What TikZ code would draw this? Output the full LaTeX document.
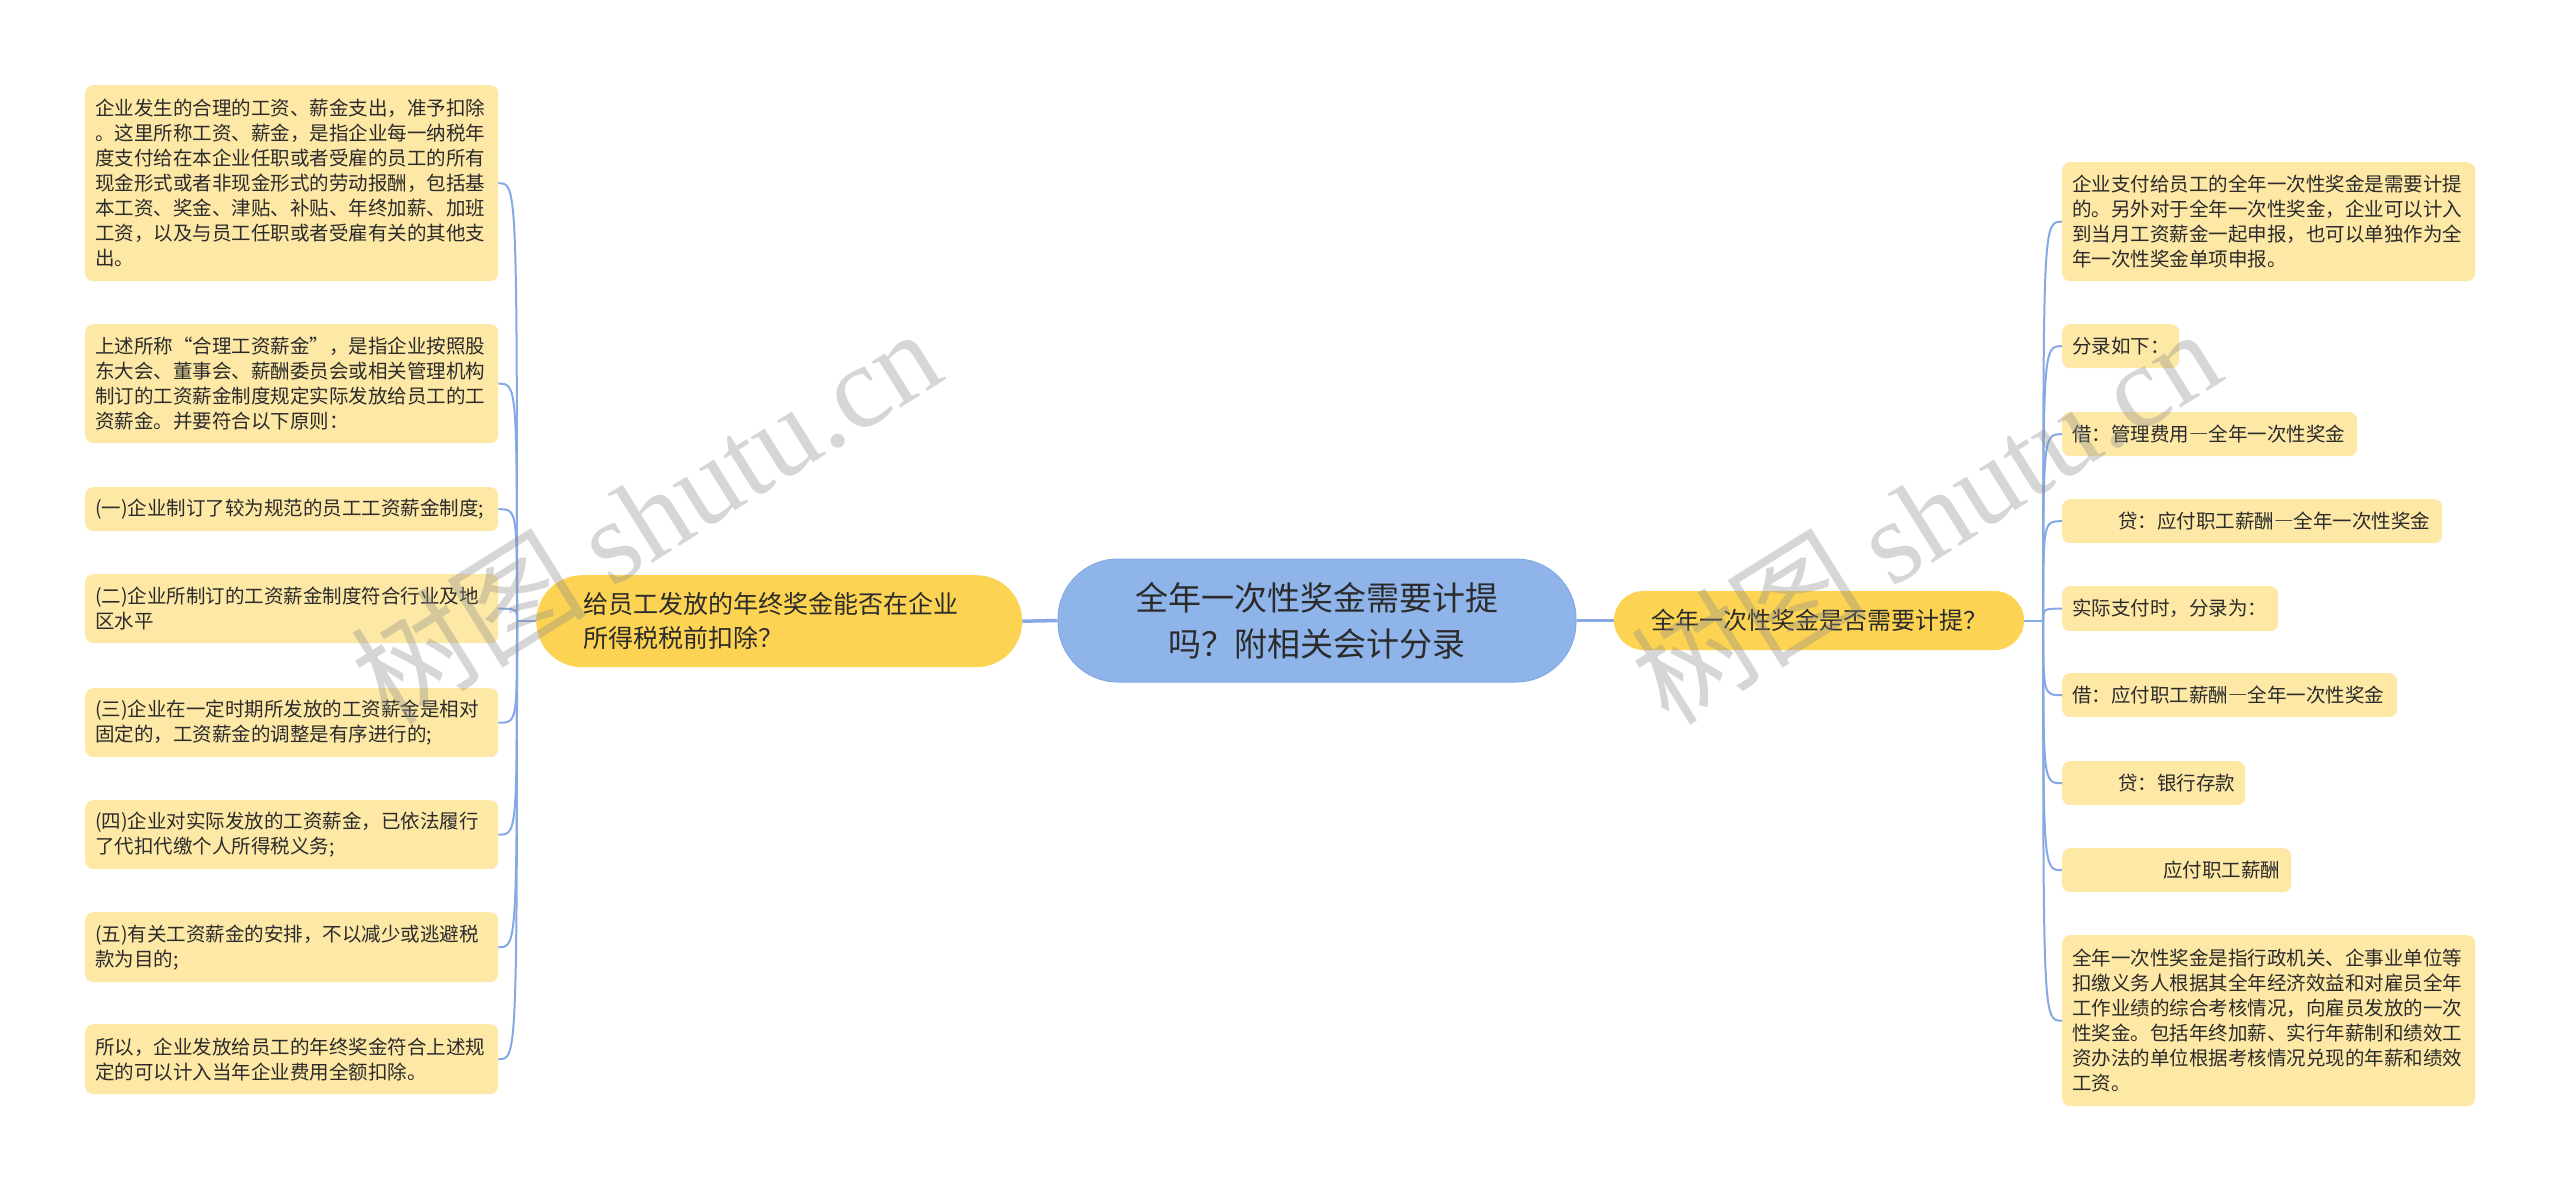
\documentclass[tikz,border=0pt]{standalone}
\usepackage{fontspec}
\setmainfont{Noto Sans CJK SC}
\newfontfamily\wmserif{Liberation Serif}
\newcommand\fwdash{{\addfontfeature{RawFeature=+fwid}—}}
\definecolor{boxfill}{HTML}{FDE8A6}
\definecolor{mainfill}{HTML}{FCD352}
\definecolor{centerfill}{HTML}{8FB4EA}
\definecolor{centerline}{HTML}{84AAE4}
\definecolor{conncol}{HTML}{86A9E3}
\definecolor{txt}{HTML}{2B2B2B}
\begin{document}
\begin{tikzpicture}[x=1pt,y=-1pt,
  leaf/.style={fill=boxfill, rounded corners=8pt, inner xsep=10pt, inner ysep=0pt,
    align=left, anchor=north west, text=txt, font=\fontsize{19.5}{25}\selectfont},
  mainnode/.style={fill=mainfill, inner ysep=0pt, text=txt},
  centernode/.style={fill=centerfill, draw=centerline, line width=1pt, rounded corners=60pt,
    inner sep=0pt, align=center, text=txt, font=\fontsize{33}{46}\selectfont},
  conn/.style={draw=conncol, line width=2pt},
  mainconn/.style={draw=conncol, line width=3.5pt},
  wm/.style={text=black!45, opacity=0.35, font=\fontsize{118}{118}\selectfont}
]
\useasboundingbox (0,0) rectangle (2560,1191);
\fill[white] (0,0) rectangle (2560,1191);

% centre
\node[centernode, minimum width=518pt, minimum height=123pt] (c) at (1317,620.5)
  {全年一次性奖金需要计提\\吗？附相关会计分录};

% left main
\node[mainnode, anchor=north west, rounded corners=45.9pt, align=left, text width=392pt,
  inner xsep=47pt, minimum height=92pt, font=\fontsize{25}{34}\selectfont] (lm) at (536,575)
  {给员工发放的年终奖金能否在企业\\所得税税前扣除？};

% right main
\node[mainnode, rounded corners=29.4pt, align=center, minimum width=410pt,
  minimum height=59pt, font=\fontsize{24}{30}\selectfont] (rm) at (1819,620.5)
  {全年一次性奖金是否需要计提？};

% left leaves
\node[leaf, text width=393pt, minimum height=196pt] (l1) at (85,85)
  {企业发生的合理的工资、薪金支出，准予扣除\\。这里所称工资、薪金，是指企业每一纳税年\\度支付给在本企业任职或者受雇的员工的所有\\现金形式或者非现金形式的劳动报酬，包括基\\本工资、奖金、津贴、补贴、年终加薪、加班\\工资，以及与员工任职或者受雇有关的其他支\\出。};
\node[leaf, text width=393pt, minimum height=119pt] (l2) at (85,324)
  {上述所称“合理工资薪金”，是指企业按照股\\东大会、董事会、薪酬委员会或相关管理机构\\制订的工资薪金制度规定实际发放给员工的工\\资薪金。并要符合以下原则：};
\node[leaf, text width=393pt, minimum height=44pt] (l3) at (85,487)
  {(一)企业制订了较为规范的员工工资薪金制度;};
\node[leaf, text width=393pt, minimum height=69pt] (l4) at (85,574)
  {(二)企业所制订的工资薪金制度符合行业及地\\区水平};
\node[leaf, text width=393pt, minimum height=69pt] (l5) at (85,688)
  {(三)企业在一定时期所发放的工资薪金是相对\\固定的，工资薪金的调整是有序进行的;};
\node[leaf, text width=393pt, minimum height=69pt] (l6) at (85,800)
  {(四)企业对实际发放的工资薪金，已依法履行\\了代扣代缴个人所得税义务;};
\node[leaf, text width=393pt, minimum height=70pt] (l7) at (85,912)
  {(五)有关工资薪金的安排，不以减少或逃避税\\款为目的;};
\node[leaf, text width=393pt, minimum height=70pt] (l8) at (85,1024)
  {所以，企业发放给员工的年终奖金符合上述规\\定的可以计入当年企业费用全额扣除。};

% right leaves
\node[leaf, text width=393pt, minimum height=119pt] (r1) at (2062,162)
  {企业支付给员工的全年一次性奖金是需要计提\\的。另外对于全年一次性奖金，企业可以计入\\到当月工资薪金一起申报，也可以单独作为全\\年一次性奖金单项申报。};
\node[leaf, text width=97pt, minimum height=44pt] (r2) at (2062,324) {分录如下：};
\node[leaf, text width=275pt, minimum height=44pt] (r3) at (2062,412) {借：管理费用\fwdash 全年一次性奖金};
\node[leaf, text width=360pt, minimum height=44pt] (r4) at (2062,499)
  {\hspace*{46pt}贷：应付职工薪酬\fwdash 全年一次性奖金};
\node[leaf, text width=196pt, minimum height=45pt] (r5) at (2062,586) {实际支付时，分录为：};
\node[leaf, text width=315pt, minimum height=44pt] (r6) at (2062,673) {借：应付职工薪酬\fwdash 全年一次性奖金};
\node[leaf, text width=163pt, minimum height=44pt] (r7) at (2062,761) {\hspace*{46pt}贷：银行存款};
\node[leaf, text width=209pt, minimum height=44pt] (r8) at (2062,848) {\hspace*{91pt}应付职工薪酬};
\node[leaf, text width=393pt, minimum height=171pt] (r9) at (2062,935)
  {全年一次性奖金是指行政机关、企事业单位等\\扣缴义务人根据其全年经济效益和对雇员全年\\工作业绩的综合考核情况，向雇员发放的一次\\性奖金。包括年终加薪、实行年薪制和绩效工\\资办法的单位根据考核情况兑现的年薪和绩效\\工资。};

% main connectors
\draw[mainconn] (c.west) -- (lm.east);
\draw[mainconn] (c.east) -- (rm.west);

% left branch connectors
\coordinate (LT) at ([xshift=-19pt]lm.west);
\draw[conn] (lm.west) -- (LT);
\foreach \n in {l1,l2,l3,l4,l5,l6,l7,l8}
  \draw[conn] (LT) .. controls (LT |- \n.east) .. (\n.east);

% right branch connectors
\coordinate (RT) at ([xshift=19pt]rm.east);
\draw[conn] (rm.east) -- (RT);
\foreach \n in {r1,r2,r3,r4,r5,r6,r7,r8,r9}
  \draw[conn] (RT) .. controls (RT |- \n.west) .. (\n.west);

% watermarks
\node[wm, rotate=32] (wm1) at (645,515) {树图 {\wmserif shutu.cn}};
\node[wm, rotate=32] (wm2) at (1925,515) {树图 {\wmserif shutu.cn}};
\end{tikzpicture}
\end{document}
